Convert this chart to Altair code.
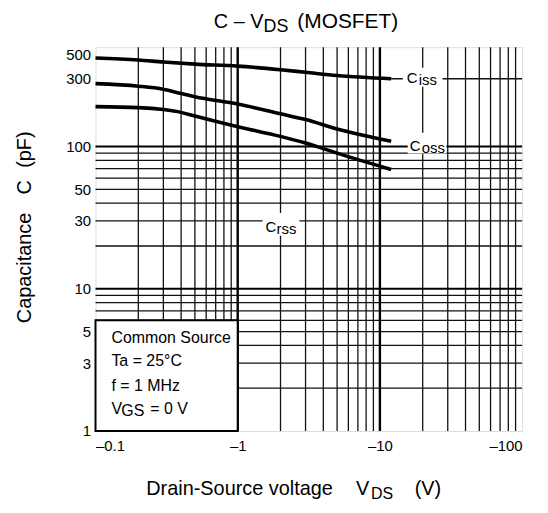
import altair as alt
import pandas as pd

FONT = "Liberation Sans"

# ---- data (V in volts, C in pF) ----
ciss_v = [-0.1, -0.2, -0.3, -0.5, -1, -2, -3, -5, -12]
ciss_c = [420, 406, 393, 380, 368, 347, 333, 316, 300]
coss_v = [-0.1, -0.2, -0.3, -0.4, -0.5, -1, -2, -3, -5, -12]
coss_c = [277, 266, 253, 236, 224, 199, 170, 155, 133, 109]
crss_v = [-0.1, -0.2, -0.3, -0.4, -0.5, -1, -2, -3, -5, -12]
crss_c = [191, 188, 182, 174, 164, 138, 118, 106, 90, 69]

x_tick_values = [0.1, 1, 10, 100]
y_tick_values = [1, 3, 5, 10, 30, 50, 100, 300, 500]
x_grid_minor = [-0.2, -0.3, -0.4, -0.5, -0.6, -0.7, -0.8, -0.9,
                -2, -3, -4, -5, -6, -7, -8, -9,
                -20, -30, -40, -50, -60, -70, -80, -90]
x_grid_major = [-1, -10]
y_grid_minor = [2, 3, 4, 5, 6, 7, 8, 9, 20, 30, 40, 50, 60, 70, 80, 90]
y_grid_major = [10, 100]
leader_v = [-12, -100]
leader_c = 300
label_names = ["Ciss", "Coss", "Crss"]
label_v = [-20, -22, -2]
label_c = [300, 100, 30]
cond_box_v = [-0.1, -1]
cond_box_c = [1, 6]
cond_lines = ["Common Source", "Ta = 25°C", "f = 1 MHz"]

W, H = 429, 386

xs = alt.Scale(type="log", domain=[0.1, 100])
ys = alt.Scale(type="log", domain=[1, 500])
x_axis = alt.Axis(values=x_tick_values, labelExpr="'\u2013' + datum.value", title=None,
                  grid=False, ticks=False, domain=False, labelPadding=8,
                  labelFontSize=15, labelFont=FONT, labelColor="black")
y_axis = alt.Axis(values=y_tick_values, title=None, grid=False, ticks=False, domain=False,
                  labelPadding=5, labelFontSize=15, labelFont=FONT, labelColor="black",
                  labelBaseline={"condition": {"test": "datum.value >= 500", "value": "top"},
                                 "value": "middle"})


def X(f="x"):
    return alt.X(f"{f}:Q", scale=xs, axis=x_axis)


def Y(f="y"):
    return alt.Y(f"{f}:Q", scale=ys, axis=y_axis)


one = pd.DataFrame({"a": [0]})

layers = []

# grid
vmin = pd.DataFrame({"x": [-v for v in x_grid_minor]})
vmaj = pd.DataFrame({"x": [-v for v in x_grid_major]})
hmin = pd.DataFrame({"y": y_grid_minor})
hmaj = pd.DataFrame({"y": y_grid_major})
layers.append(alt.Chart(vmin).mark_rule(color="#111", strokeWidth=1.3).encode(x=X()))
layers.append(alt.Chart(vmaj).mark_rule(color="#000", strokeWidth=2.4).encode(x=X()))
layers.append(alt.Chart(hmin).mark_rule(color="#111", strokeWidth=1.3).encode(y=Y()))
layers.append(alt.Chart(hmaj).mark_rule(color="#000", strokeWidth=2.0).encode(y=Y()))

# leader line for Ciss
lead = pd.DataFrame({"x": [-leader_v[0]], "x2": [-leader_v[1]], "y": [leader_c]})
layers.append(alt.Chart(lead).mark_rule(color="#111", strokeWidth=1.3).encode(
    x=X(), x2="x2:Q", y=Y()))

# condition box
cbox = pd.DataFrame({"x": [-cond_box_v[0]], "x2": [-cond_box_v[1]],
                     "y": [cond_box_c[0]], "y2": [cond_box_c[1]]})
layers.append(alt.Chart(cbox).mark_rect(fill="white", stroke="black", strokeWidth=2).encode(
    x=X(), x2="x2:Q", y=Y(), y2="y2:Q"))

# curves
curves = pd.concat([
    pd.DataFrame({"series": "Ciss", "x": [-v for v in ciss_v], "y": ciss_c}),
    pd.DataFrame({"series": "Coss", "x": [-v for v in coss_v], "y": coss_c}),
    pd.DataFrame({"series": "Crss", "x": [-v for v in crss_v], "y": crss_c}),
])
layers.append(alt.Chart(curves).mark_line(color="black", strokeWidth=3.6, interpolate="monotone",
                                          strokeCap="butt").encode(
    x=X(), y=Y(), detail="series:N"))

# curve labels with white boxes
box_off = {"Ciss": (-20, 20, -11, 8), "Coss": (-21, 18, -14, 7), "Crss": (-18, 19, -8, 15)}
c_off = {"Ciss": (-16, 4), "Coss": (-19, 4), "Crss": (-15, 11)}
sub_off = {"Ciss": (-4, 6), "Coss": (-7, 6), "Crss": (-4, 13)}
for name, v, c in zip(label_names, label_v, label_c):
    d = pd.DataFrame({"x": [-v], "y": [c], "sub": [name[1:]]})
    xo, x2o, yo, y2o = box_off[name]
    layers.append(alt.Chart(d).mark_rect(fill="white", xOffset=xo, x2Offset=x2o,
                                         yOffset=yo, y2Offset=y2o).encode(
        x=X(), x2="x:Q", y=Y(), y2="y:Q"))
    layers.append(alt.Chart(d).mark_text(text="C", align="left", baseline="alphabetic",
                                         fontSize=15, font=FONT, color="black",
                                         dx=c_off[name][0], dy=c_off[name][1]).encode(
        x=X(), y=Y()))
    layers.append(alt.Chart(d).mark_text(align="left", baseline="alphabetic",
                                         fontSize=15, font=FONT, color="black",
                                         dx=sub_off[name][0], dy=sub_off[name][1]).encode(
        x=X(), y=Y(), text="sub:N"))


def label(text, x, y, size, align="left", angle=0, baseline="alphabetic"):
    kw = dict(align=align, baseline=baseline, fontSize=size, font=FONT, color="black")
    if angle:
        kw["angle"] = angle
    return alt.Chart(one).mark_text(**kw).encode(
        x=alt.value(x), y=alt.value(y), text=alt.value(text))


# condition text
for i, t in enumerate(cond_lines):
    layers.append(label(t, 16, [297, 321, 346][i], 16))
layers.append(label("V", 16, 369, 16))
layers.append(label("GS", 26, 371, 16))
layers.append(label("= 0 V", 55, 369, 16))

# title
layers.append(label("C \u2013 V", 119, -19, 20))
layers.append(label("DS", 169, -15, 18))
layers.append(label("(MOSFET)", 203, -19, 21))

# x-axis title
layers.append(label("Drain-Source voltage", 51, 450, 20))
layers.append(label("V", 262, 450, 20))
layers.append(label("DS", 277, 454, 16))
layers.append(label("(V)", 321, 450, 20))

# y-axis title
layers.append(label("Capacitance", -71, 222, 20, align="center", angle=270, baseline="middle"))
layers.append(label("C", -71, 141, 20, align="center", angle=270, baseline="middle"))
layers.append(label("(pF)", -71, 103, 20, align="center", angle=270, baseline="middle"))

chart = alt.layer(*layers).properties(
    width=W, height=H,
    autosize="none",
    padding={"left": 88, "top": 38, "right": 18, "bottom": 73},
).configure_view(stroke="black", strokeWidth=3).configure(background="white")

chart.save("out.html", embed_options={"renderer": "svg", "actions": False})
